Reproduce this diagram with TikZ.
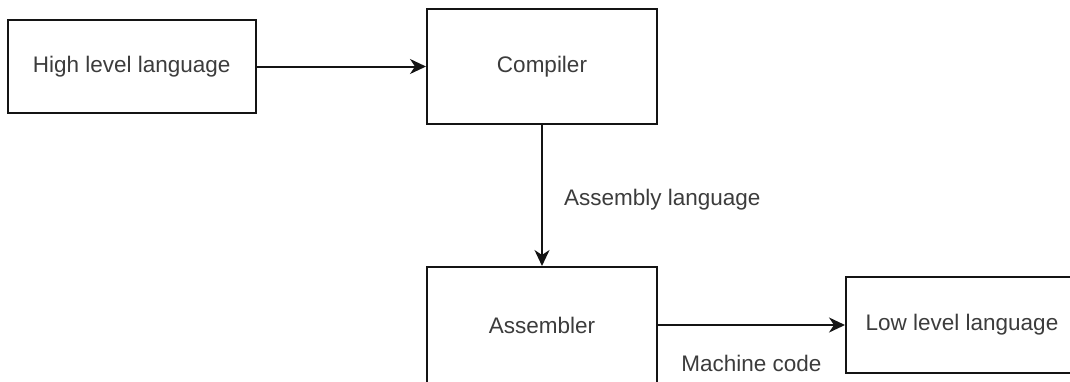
\documentclass[tikz,border=0pt]{standalone}
\usepackage{fontspec}
\setmainfont{Liberation Sans}
\usetikzlibrary{arrows.meta}
\definecolor{inkline}{HTML}{141414}
\definecolor{inktext}{HTML}{3C3C3C}
\tikzset{
  stagebox/.style={draw=inkline, line width=2pt, fill=white, inner sep=0pt,
    text=inktext, font=\fontsize{22.5}{27}\selectfont},
  flow/.style={draw=inkline, line width=2pt,
    -{Stealth[length=16pt,width=15pt,inset=5pt]}},
  flowlabel/.style={text=inktext, inner sep=0pt, font=\fontsize{22.5}{27}\selectfont}
}
\begin{document}
\begin{tikzpicture}[x=1pt,y=-1pt]
  \useasboundingbox (0,0) rectangle (1070,381);
  \clip (0,0) rectangle (1070,381);

  \node[stagebox, minimum width=248.5pt, minimum height=93.5pt] (hll) at (131.75,66.5) {High level language};
  \node[stagebox, minimum width=230pt, minimum height=115pt] (comp) at (542,66.5) {Compiler};
  \node[stagebox, minimum width=230pt, minimum height=116pt] (asm) at (542,325) {Assembler};
  \node[stagebox, minimum width=232pt, minimum height=96pt] (lll) at (962,325) {Low level language};

  \draw[flow] (hll) -- (comp);
  \draw[flow] (comp) -- node[flowlabel, pos=0.53, anchor=west, xshift=21pt] {Assembly language} (asm);
  \draw[flow] (asm) -- node[flowlabel, pos=0.5, yshift=-38pt] {Machine code} (lll);
\end{tikzpicture}
\end{document}
